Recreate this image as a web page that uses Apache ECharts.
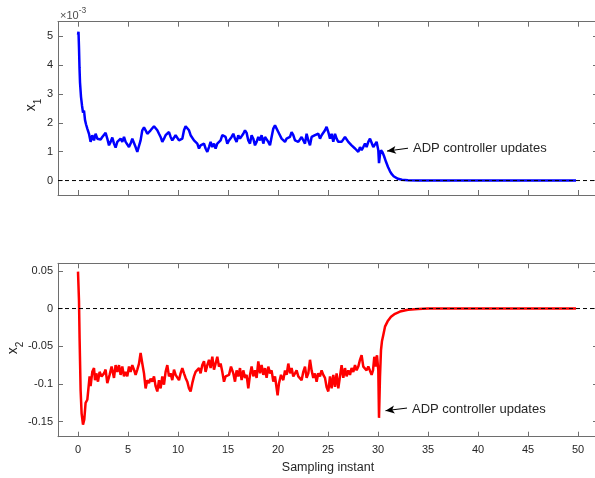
<!DOCTYPE html>
<html>
<head>
<meta charset="utf-8">
<script src="https://cdn.jsdelivr.net/npm/echarts@6/dist/echarts.min.js"></script>
<style>html,body{margin:0;padding:0;background:#fff;}#c{width:595px;height:478px;}</style>
</head>
<body>
<div id="c"></div>
<script>
// ---- data ----
// Top panel: x1, values in units of 1e-3 (axis shows "x10^-3")
const t1 = [0,0.05,0.1,0.15,0.2,0.3,0.4,0.5,0.6,0.7,0.8,0.93,1.1,1.26,1.43,1.6,1.76,1.93,2.1,2.26,2.43,2.6,2.76,2.93,3.1,3.26,3.43,3.6,3.76,3.93,4.1,4.26,4.43,4.6,4.76,4.93,5.1,5.26,5.43,5.6,5.76,5.93,6.1,6.26,6.43,6.6,6.76,6.93,7.1,7.26,7.43,7.6,7.76,7.93,8.1,8.26,8.43,8.6,8.76,8.93,9.1,9.26,9.43,9.6,9.76,9.93,10.1,10.26,10.43,10.6,10.76,10.93,11.1,11.26,11.43,11.6,11.76,11.93,12.1,12.26,12.43,12.6,12.76,12.93,13.1,13.26,13.43,13.6,13.76,13.93,14.1,14.26,14.43,14.6,14.76,14.93,15.1,15.26,15.36,15.53,15.7,15.86,16.03,16.2,16.36,16.53,16.7,16.86,17.03,17.2,17.36,17.53,17.7,17.86,18.03,18.2,18.36,18.53,18.7,18.86,19.03,19.2,19.36,19.53,19.7,19.86,20.03,20.2,20.36,20.53,20.7,20.86,21.03,21.2,21.36,21.53,21.7,21.86,22.03,22.2,22.36,22.53,22.7,22.86,23.03,23.2,23.36,23.53,23.7,23.86,24.03,24.2,24.36,24.53,24.7,24.86,25.03,25.2,25.36,25.53,25.7,25.86,26.03,26.2,26.36,26.53,26.7,26.86,27.03,27.2,27.36,27.53,27.7,27.86,28.03,28.2,28.36,28.53,28.7,28.86,29.03,29.2,29.36,29.53,29.7,29.86,30.03,30.1,30.2,30.3,30.45,30.6,30.8,31.0,31.2,31.4,31.6,31.8,32.0,32.4,33,34,35,40,45,49.8];
const x1 = [5.05,5.15,4.6,3.9,3.4,2.9,2.6,2.35,2.42,2.1,1.95,1.8,1.62,1.34,1.57,1.39,1.62,1.45,1.51,1.42,1.51,1.45,1.65,1.45,1.22,1.34,1.49,1.28,1.14,1.34,1.28,1.45,1.34,1.51,1.34,1.39,1.16,1.28,1.45,1.39,1.16,0.99,0.94,1.39,1.74,1.84,1.74,1.62,1.57,1.74,1.8,1.88,1.86,1.74,1.62,1.51,1.34,1.45,1.57,1.62,1.68,1.51,1.39,1.45,1.57,1.51,1.39,1.34,1.45,1.74,1.88,1.91,1.74,1.57,1.51,1.39,1.34,1.28,1.11,1.22,1.16,1.28,1.11,0.99,1.16,1.34,1.16,1.28,1.11,1.28,1.34,1.39,1.57,1.6,1.51,1.28,1.39,1.45,1.51,1.62,1.45,1.34,1.57,1.45,1.39,1.62,1.74,1.65,1.39,1.28,1.57,1.45,1.22,1.34,1.51,1.39,1.57,1.28,1.51,1.57,1.34,1.22,1.51,1.8,1.91,1.86,1.68,1.74,1.45,1.39,1.34,1.45,1.39,1.51,1.68,1.57,1.39,1.45,1.34,1.39,1.51,1.45,1.28,1.62,1.39,1.22,1.51,1.45,1.57,1.51,1.62,1.45,1.57,1.51,1.74,1.86,1.68,1.45,1.62,1.34,1.62,1.45,1.34,1.39,1.34,1.28,1.51,1.45,1.34,1.28,1.22,1.16,1.11,1.05,0.99,1.16,1.05,1.16,1.28,1.16,1.34,1.45,1.51,1.16,1.22,1.34,1.05,0.6,0.9,1.05,0.98,0.85,0.65,0.47,0.32,0.21,0.14,0.09,0.06,0.03,0.01,0.003,0,0,0,0];

// Bottom panel: x2
const t2 = [0,0.1,0.16,0.26,0.36,0.5,0.63,0.76,0.93,1.03,1.16,1.26,1.43,1.6,1.7,1.83,2.0,2.16,2.36,2.6,2.76,2.93,3.16,3.36,3.6,3.76,3.93,4.1,4.26,4.43,4.6,4.76,4.93,5.1,5.26,5.43,5.6,5.76,5.93,6.1,6.26,6.43,6.6,6.76,6.93,7.1,7.26,7.43,7.6,7.76,7.93,8.1,8.26,8.43,8.6,8.76,8.93,9.1,9.26,9.43,9.6,9.76,9.93,10.1,10.26,10.43,10.6,10.76,10.93,11.1,11.26,11.43,11.6,11.76,11.93,12.1,12.26,12.43,12.6,12.76,12.93,13.1,13.26,13.43,13.6,13.76,13.93,14.1,14.26,14.43,14.6,14.76,14.93,15.1,15.3,15.53,15.7,15.86,16.03,16.2,16.36,16.53,16.7,16.86,17.03,17.2,17.36,17.53,17.7,17.86,18.03,18.2,18.36,18.53,18.7,18.86,19.03,19.2,19.36,19.53,19.7,19.83,19.96,20.1,20.3,20.53,20.7,20.86,21.03,21.2,21.36,21.53,21.7,21.86,22.03,22.2,22.36,22.53,22.7,22.86,23.03,23.2,23.36,23.53,23.7,23.86,24.03,24.2,24.36,24.53,24.7,24.86,25.03,25.2,25.36,25.53,25.7,25.86,26.03,26.2,26.36,26.53,26.7,26.86,27.03,27.2,27.36,27.53,27.7,27.86,28.03,28.2,28.36,28.53,28.7,28.86,29.03,29.2,29.36,29.5,29.63,29.76,29.9,30.03,30.1,30.2,30.3,30.4,30.53,30.7,30.96,31.3,31.7,32.2,33,34,35,40,45,49.8];
const x2 = [0.049,0.01,-0.04,-0.108,-0.139,-0.154,-0.147,-0.125,-0.121,-0.108,-0.09,-0.103,-0.084,-0.079,-0.095,-0.086,-0.097,-0.084,-0.09,-0.086,-0.081,-0.099,-0.088,-0.077,-0.092,-0.075,-0.084,-0.075,-0.088,-0.077,-0.09,-0.084,-0.09,-0.077,-0.084,-0.075,-0.081,-0.088,-0.081,-0.073,-0.059,-0.073,-0.086,-0.106,-0.095,-0.099,-0.093,-0.097,-0.09,-0.103,-0.11,-0.095,-0.106,-0.09,-0.101,-0.084,-0.075,-0.09,-0.086,-0.095,-0.081,-0.088,-0.086,-0.095,-0.086,-0.079,-0.086,-0.092,-0.097,-0.106,-0.11,-0.099,-0.09,-0.084,-0.086,-0.079,-0.086,-0.075,-0.07,-0.084,-0.075,-0.068,-0.079,-0.064,-0.081,-0.073,-0.064,-0.077,-0.073,-0.084,-0.097,-0.09,-0.092,-0.088,-0.077,-0.086,-0.097,-0.082,-0.09,-0.079,-0.095,-0.082,-0.092,-0.088,-0.106,-0.088,-0.077,-0.09,-0.082,-0.092,-0.07,-0.086,-0.075,-0.088,-0.079,-0.092,-0.077,-0.086,-0.082,-0.097,-0.09,-0.092,-0.115,-0.099,-0.088,-0.095,-0.082,-0.088,-0.073,-0.086,-0.079,-0.09,-0.086,-0.082,-0.09,-0.088,-0.095,-0.084,-0.077,-0.092,-0.086,-0.068,-0.082,-0.092,-0.086,-0.097,-0.086,-0.09,-0.082,-0.088,-0.092,-0.104,-0.11,-0.09,-0.106,-0.088,-0.104,-0.086,-0.106,-0.09,-0.075,-0.092,-0.079,-0.09,-0.082,-0.088,-0.079,-0.084,-0.075,-0.082,-0.077,-0.068,-0.062,-0.077,-0.075,-0.082,-0.077,-0.079,-0.088,-0.082,-0.064,-0.077,-0.062,-0.082,-0.145,-0.09,-0.055,-0.043,-0.035,-0.024,-0.017,-0.011,-0.007,-0.004,-0.0015,-0.0005,0,0,0,0];

// Axis ticks
const xTicks = [0,5,10,15,20,25,30,35,40,45,50];
const y1Ticks = [0,1,2,3,4,5];
const y2Ticks = [-0.15,-0.1,-0.05,0,0.05];
const zeroLine = [[-2,0],[52,0]];

// Annotations (data coordinates)
const note = 'ADP controller updates';
const arrow1 = {tail:[33.0,1.12], head:[30.9,1.02], text:[33.5,1.12]};
const arrow2 = {tail:[32.9,-0.132], head:[30.75,-0.1355], text:[33.4,-0.134]};

// ---- chart ----
const zip = (a,b) => a.map((v,i)=>[v,b[i]]);
const AX = '#6e6e6e', TXT = '#262626', FONT = 'Liberation Sans, Arial, sans-serif';
const chart = echarts.init(document.getElementById('c'), null, {renderer:'canvas'});

function xAx(grid, pos, labels, name){
  return {type:'value', gridIndex:grid, position:pos, min:-2, max:52,
    axisLine:{show:true, onZero:false, lineStyle:{color:AX, width:1}},
    axisTick:{show:true, inside:true, length:5, customValues:xTicks, lineStyle:{color:AX}},
    axisLabel:{show:labels, customValues:xTicks, margin:8, color:TXT, fontSize:11, fontFamily:FONT},
    splitLine:{show:false},
    name:name||'', nameLocation:'middle', nameGap:24,
    nameTextStyle:{color:TXT, fontSize:12.5, fontFamily:FONT}};
}
function yAx(grid, pos, min, max, ticks, labels){
  return {type:'value', gridIndex:grid, position:pos, min:min, max:max,
    axisLine:{show:true, onZero:false, lineStyle:{color:AX, width:1}},
    axisTick:{show:true, inside:true, length:5, customValues:ticks, lineStyle:{color:AX}},
    axisLabel:{show:labels, customValues:ticks, margin:5, color:TXT, fontSize:11, fontFamily:FONT},
    splitLine:{show:false}};
}
function yName(sub, x, y){
  return {type:'text', x:x, y:y, rotation:Math.PI/2, silent:true,
    style:{text:'{v|x}{s|'+sub+'}', align:'center', verticalAlign:'middle', rich:{
      v:{fontSize:14, fill:TXT, fontFamily:FONT, verticalAlign:'top', lineHeight:19},
      s:{fontSize:10, fill:TXT, fontFamily:FONT, verticalAlign:'bottom', lineHeight:19}}}};
}
function arrowLine(a){
  return {silent:true, animation:false, symbol:['none','arrow'], symbolSize:[6,9],
    lineStyle:{color:'#000', width:1, type:'solid'}, label:{show:false},
    data:[[{coord:a.tail},{coord:a.head}]]};
}
function noteText(a){
  return {silent:true, animation:false, data:[{coord:a.text, symbol:'circle', symbolSize:0,
    itemStyle:{color:'transparent'},
    label:{show:true, position:'right', distance:0, formatter:note, color:TXT, fontSize:13, fontFamily:FONT}}]};
}

chart.setOption({
  animation:false,
  backgroundColor:'#fff',
  grid:[
    {left:58, top:21.7, width:540, height:173.3, containLabel:false, outerBoundsMode:'none'},
    {left:58, top:263.3, width:540, height:173.4, containLabel:false, outerBoundsMode:'none'}
  ],
  xAxis:[xAx(0,'bottom',false), xAx(0,'top',false), xAx(1,'bottom',true,'Sampling instant'), xAx(1,'top',false)],
  yAxis:[yAx(0,'left',-0.5,5.5,y1Ticks,true), yAx(0,'right',-0.5,5.5,y1Ticks,false),
         yAx(1,'left',-0.17,0.06,y2Ticks,true), yAx(1,'right',-0.17,0.06,y2Ticks,false)],
  graphic:[
    {type:'text', left:60, top:6, style:{text:'{a|\u00d710}{b|-3}', rich:{
      a:{fontSize:11, fill:'#4d4d4d', fontFamily:FONT, verticalAlign:'bottom', lineHeight:15},
      b:{fontSize:8.5, fill:'#4d4d4d', fontFamily:FONT, verticalAlign:'top', lineHeight:15}}}},
    yName('1', 34, 105),
    yName('2', 16, 348)
  ],
  series:[
    {type:'line', xAxisIndex:0, yAxisIndex:0, data:zip(t1,x1), showSymbol:false, symbol:'none',
     lineStyle:{color:'#0000ff', width:2.5}, z:2, markLine:arrowLine(arrow1), markPoint:noteText(arrow1)},
    {type:'line', xAxisIndex:0, yAxisIndex:0, data:zeroLine, showSymbol:false, symbol:'none',
     lineStyle:{color:'#000', width:1, type:[4,3]}, z:3},
    {type:'line', xAxisIndex:2, yAxisIndex:2, data:zip(t2,x2), showSymbol:false, symbol:'none',
     lineStyle:{color:'#ff0000', width:2.5}, z:2, markLine:arrowLine(arrow2), markPoint:noteText(arrow2)},
    {type:'line', xAxisIndex:2, yAxisIndex:2, data:zeroLine, showSymbol:false, symbol:'none',
     lineStyle:{color:'#000', width:1, type:[4,3]}, z:3}
  ]
});
</script>
</body>
</html>
